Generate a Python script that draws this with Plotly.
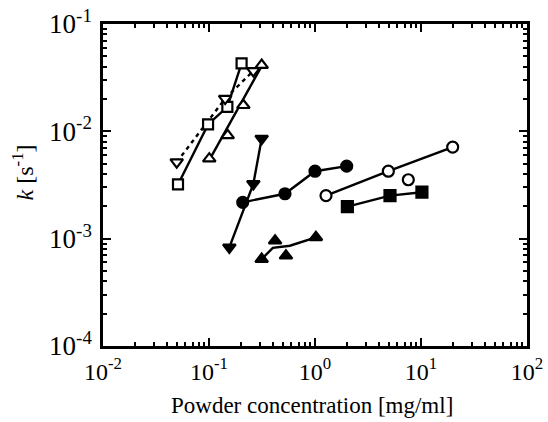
import plotly.graph_objects as go

# ---- data ----
sq_open_x = [0.051, 0.098, 0.149, 0.203]
sq_open_y = [0.0032, 0.0116, 0.0169, 0.043]

dn_open_x = [0.0496, 0.142, 0.262]
dn_open_y = [0.00516, 0.0202, 0.0366]

up_open_x = [0.1006, 0.150, 0.211, 0.314]
up_open_y = [0.00556, 0.00918, 0.0175, 0.0414]
up_open_fit_x = [0.1006, 0.314]
up_open_fit_y = [0.0054, 0.0405]

dn_fill_x = [0.1556, 0.262, 0.314]
dn_fill_y = [0.00083, 0.00324, 0.00855]

ci_fill_x = [0.208, 0.521, 1.0, 1.99]
ci_fill_y = [0.00218, 0.00262, 0.00425, 0.00474]

up_fill_x = [0.314, 0.420, 0.532, 1.02]
up_fill_y = [0.000645, 0.000957, 0.000693, 0.00103]
up_fill_fit_x = [0.314, 0.40, 0.58, 1.02]
up_fill_fit_y = [0.000645, 0.00082, 0.00086, 0.00103]

ci_open_x = [1.27, 4.92, 7.59, 19.9]
ci_open_y = [0.00252, 0.00425, 0.00354, 0.00713]
ci_open_fit_x = [1.27, 4.92, 19.9]
ci_open_fit_y = [0.00252, 0.00425, 0.00713]

sq_fill_x = [2.02, 5.1, 10.2]
sq_fill_y = [0.00199, 0.00252, 0.00271]

x_tickvals = [0.01, 0.1, 1, 10, 100]
x_ticktext = ["10<sup>-2</sup>", "10<sup>-1</sup>", "10<sup>0</sup>", "10<sup>1</sup>", "10<sup>2</sup>"]
y_tickvals = [0.0001, 0.001, 0.01, 0.1]
y_ticktext = ["10<sup>-4</sup>", "10<sup>-3</sup>", "10<sup>-2</sup>", "10<sup>-1</sup>"]

x_title = "Powder concentration [mg/ml]"
y_title = "<i>k</i> [s<sup>-1</sup>]"

FONT = "Liberation Serif"

fig = go.Figure()

def line(x, y, dash="solid"):
    fig.add_trace(go.Scatter(x=x, y=y, mode="lines",
                             line=dict(color="black", width=2.4, dash=dash),
                             showlegend=False, hoverinfo="skip"))

def marks(x, y, symbol, filled, size=10):
    fig.add_trace(go.Scatter(x=x, y=y, mode="markers",
                             marker=dict(symbol=symbol, size=size,
                                         color="black" if filled else "white",
                                         line=dict(color="black", width=2.2)),
                             showlegend=False))

line(sq_open_x, sq_open_y)
line(dn_open_x, dn_open_y, dash="4px,4px")
line(up_open_fit_x, up_open_fit_y)
line(dn_fill_x, dn_fill_y)
line(ci_fill_x, ci_fill_y)
line(up_fill_fit_x, up_fill_fit_y)
line(ci_open_fit_x, ci_open_fit_y)
line(sq_fill_x, sq_fill_y)

marks(sq_open_x, sq_open_y, "square", False, 10)
marks(dn_open_x, dn_open_y, "triangle-down", False, 11)
marks(up_open_x, up_open_y, "triangle-up", False, 11)
marks(dn_fill_x, dn_fill_y, "triangle-down", True, 11)
marks(ci_fill_x, ci_fill_y, "circle", True, 11)
marks(up_fill_x, up_fill_y, "triangle-up", True, 11)
marks(ci_open_x, ci_open_y, "circle", False, 11)
marks(sq_fill_x, sq_fill_y, "square", True, 11)

axis_common = dict(
    showline=True, linecolor="black", linewidth=2.5, mirror="allticks",
    ticks="inside", ticklen=8, tickwidth=2, tickcolor="black",
    showgrid=False, zeroline=False, automargin=False,
    minor=dict(ticks="inside", ticklen=4, tickwidth=1.5, tickcolor="black",
               dtick="D1", showgrid=False),
)

fig.update_xaxes(type="log", range=[-2, 2], tickvals=x_tickvals, ticktext=x_ticktext,
                 ticklabelstandoff=2,
                 tickfont=dict(family=FONT, size=24, color="black"),
                 **axis_common)
fig.update_yaxes(type="log", range=[-4, -1], tickvals=y_tickvals, ticktext=y_ticktext,
                 ticklabelstandoff=3,
                 tickfont=dict(family=FONT, size=27, color="black"),
                 **axis_common)

fig.add_annotation(text=x_title, xref="paper", yref="paper", x=0.493, y=-0.185,
                   xanchor="center", yanchor="middle", showarrow=False,
                   font=dict(family=FONT, size=23, color="black"))
fig.add_annotation(text=y_title, xref="paper", yref="paper", x=-0.188, y=0.54,
                   xanchor="center", yanchor="middle", showarrow=False, textangle=-90,
                   font=dict(family=FONT, size=24, color="black"))

fig.update_layout(
    width=548, height=422,
    margin=dict(l=103, r=21, t=24, b=76),
    paper_bgcolor="white", plot_bgcolor="white",
    showlegend=False,
)

fig.write_html("out.html")
